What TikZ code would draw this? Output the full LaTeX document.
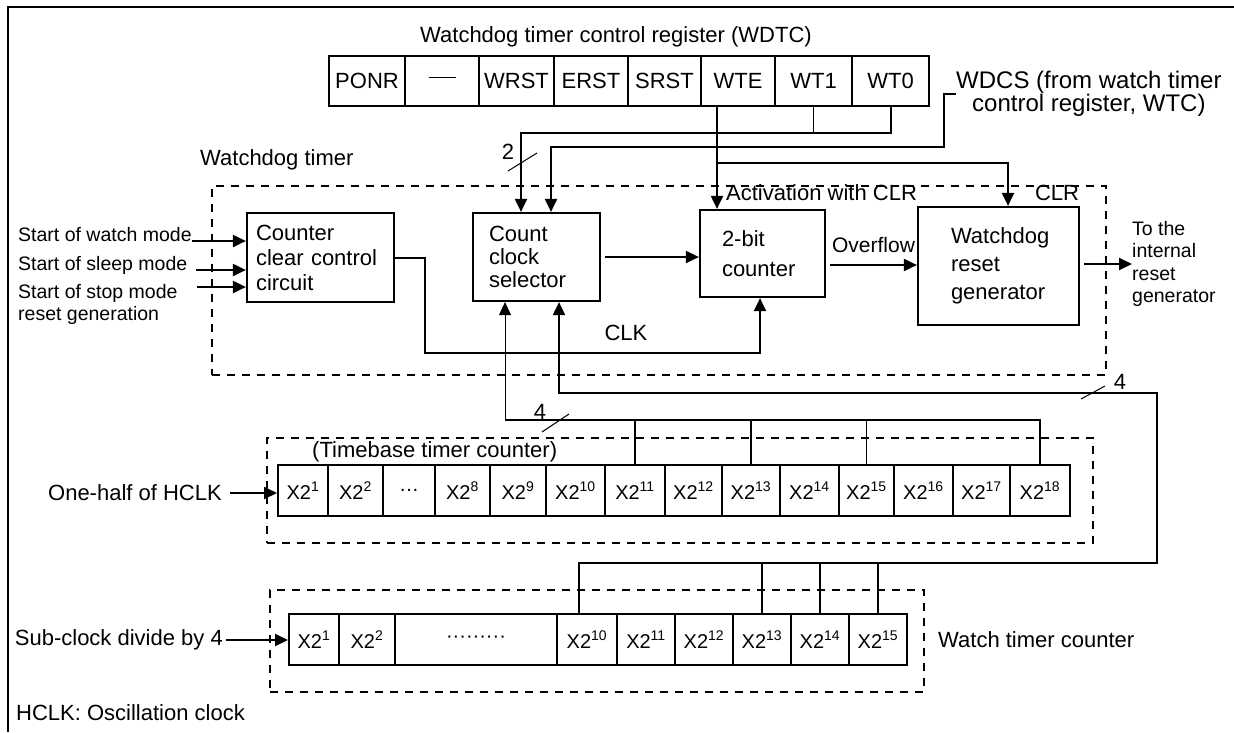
\documentclass[tikz,border=0pt]{standalone}
\usepackage{fontspec}
\setmainfont{Liberation Sans}
\usetikzlibrary{arrows.meta, calc}
\newcommand{\mainsz}{\fontsize{22}{26}\selectfont}
\newcommand{\smallsz}{\fontsize{19.5}{22}\selectfont}
\newcommand{\cellsz}{\fontsize{20}{24}\selectfont}
\newcommand{\xtwo}[1]{X2\textsuperscript{#1}}

\begin{document}
\begin{tikzpicture}[x=1pt, y=-1pt,
    box/.style={draw, line width=2.2pt, inner sep=0pt, align=left},
    regcell/.style={draw, line width=2pt, inner sep=0pt,
                    minimum height=50pt, font=\mainsz},
    cell/.style={draw, line width=2pt, inner sep=0pt,
                 minimum height=51pt, font=\cellsz},
    arr/.style={-{Triangle[length=13pt,width=12pt]}, line width=2pt},
    bus/.style={line width=1.8pt},
    slash/.style={line width=1pt},
    dashbox/.style={draw, line width=2pt, dash pattern=on 8pt off 7pt,
                    inner sep=0pt},
    lbl/.style={font=\mainsz, inner sep=0pt},
    sml/.style={font=\smallsz, inner sep=0pt}
  ]
  \useasboundingbox (0,0) rectangle (1234,732);
  % Frame
  \draw[line width=2.5pt] (1234,7) -- (8,7) -- (8,732);

  % Control register WDTC
  \node[lbl] (regtitle) at (616,37) {Watchdog timer control register (WDTC)};
  \foreach \xa/\xb/\n/\txt in {329/405/ponr/PONR,
      405/479/rsv/{\rule[7pt]{27pt}{1.3pt}}, 479/554/wrst/WRST,
      554/628/erst/ERST, 628/701/srst/SRST, 701/775/wte/WTE,
      775/852/wtone/WT1, 852/929/wtzero/WT0} {
    \node[regcell, minimum width={(\xb-\xa)*1pt}] (\n) at ({(\xa+\xb)/2},81) {\txt};
  }
  \node[lbl, anchor=west, align=center, font=\fontsize{24}{23}\selectfont]
        (wdcs) at (956,94) {WDCS (from watch timer\\control register, WTC)};

  % Watchdog timer block
  \node[dashbox, minimum width=894pt, minimum height=189pt] (wdt) at (659,280.5) {};
  \node[lbl, anchor=west] (wdtlbl) at (200,160) {Watchdog timer};
  \node[box, minimum width=147pt, minimum height=89pt, text width=129pt,
        font=\fontsize{22}{25}\selectfont] (ccc) at (320.5,257.5)
        {Counter\\clear control\\circuit};
  \node[box, minimum width=127pt, minimum height=88pt, text width=95pt,
        font=\fontsize{22}{23}\selectfont] (ccs) at (536.5,257)
        {Count\\clock\\selector};
  \node[box, minimum width=125pt, minimum height=87pt, text width=81pt,
        font=\fontsize{22}{30}\selectfont] (cnt) at (762.5,253.5)
        {2-bit\\counter};
  \node[box, minimum width=161pt, minimum height=118pt, text width=95pt,
        font=\fontsize{22}{28}\selectfont] (wrg) at (998.5,266)
        {Watchdog\\reset\\generator};

  % Inputs of the clear control
  \node[sml, anchor=base west] (swm) at (18,241) {Start of watch mode};
  \node[sml, anchor=base west] (ssm) at (18,270) {Start of sleep mode};
  \node[sml, anchor=west, align=left] (stm) at (18,304)
        {Start of stop mode\\reset generation};
  \coordinate (stmin) at (197,287);
  \draw[arr] (swm.base east) -- (swm.base east -| ccc.west);
  \draw[arr] ($(ssm.base east)+(9,0)$) -- (ssm.base east -| ccc.west);
  \draw[arr] (stmin) -- (stmin -| ccc.west);

  % Output
  \node[sml, anchor=west, align=left, font=\fontsize{19.5}{22.5}\selectfont]
        (torst) at (1132,264) {To the\\internal\\reset\\generator};
  \draw[arr] ($(wrg.east |- torst.west)+(4,0)$) -- (torst.west);

  % Inner connections
  \draw[arr] ($(ccs.east)+(4,0)$) -- (ccs.east -| cnt.west);
  \draw[arr] ($(cnt.east)+(4,11.5)$)
        -- node[lbl, above=11pt, font=\fontsize{21}{24}\selectfont] (ovf) {Overflow}
        ($(cnt.east -| wrg.west)+(0,11.5)$);
  \draw[arr] (ccc.east) -- ++(30,0) -- ++(0,95) -| ($(cnt.south)+(-2.5,0)$);
  \node[lbl] (clk) at (626,333) {CLK};

  % From the register
  \coordinate (wtebit) at ($(wte.south)+(-21,0)$);
  \draw[arr] (wtebit) -- (wtebit |- cnt.north);
  \draw[arr] (wtebit |- 0,163) -| ($(wrg.north)+(9.5,0)$);
  \node[lbl, anchor=west] (act) at (726,193) {Activation with CLR};
  \node[lbl] (clr) at (1057,193) {CLR};
  \draw[bus] (wtone.south) -- (wtone.south |- 0,133);
  \draw[arr] (wtzero.south) -- (wtzero.south |- 0,133)
        -| ($(ccs.north)+(-15.5,0)$);
  \draw[arr] (wdcs.west) -- ++(-12,0) -- ++(0,53) -| ($(ccs.north)+(14.5,0)$);
  \node[lbl] (two) at (508,152) {2};
  \draw[slash] ($(two)+(0,19)$) -- ++(29,-18);

  % Timebase timer counter
  \node[dashbox, minimum width=826pt, minimum height=105pt] (tbbox) at (680,490.5) {};
  \node[lbl, anchor=west] (tbtitle) at (312,452) {(Timebase timer counter)};
  \foreach \xa/\xb/\n/\txt in {278/328/1/\xtwo{1}, 328/383/2/\xtwo{2},
      383/435/dots/{…}, 435/490/8/\xtwo{8}, 490/546/9/\xtwo{9},
      546/605/10/\xtwo{10}, 605/665/11/\xtwo{11}, 665/722/12/\xtwo{12},
      722/780/13/\xtwo{13}, 780/839/14/\xtwo{14}, 839/894/15/\xtwo{15},
      894/953/16/\xtwo{16}, 953/1010/17/\xtwo{17}, 1010/1070/18/\xtwo{18}} {
    \node[cell, minimum width={(\xb-\xa)*1pt}] (tb\n) at ({(\xa+\xb)/2},490.5) {\txt};
  }
  \node[lbl, anchor=east] (half) at (222,493) {One-half of HCLK};
  \draw[arr] ($(half.east)+(8,0)$) -- (half.east -| tb1.west);

  % Watch timer counter
  \node[dashbox, minimum width=654pt, minimum height=102pt] (wtbox) at (597,641) {};
  \foreach \xa/\xb/\n/\txt in {289/339/1/\xtwo{1}, 339/395/2/\xtwo{2},
      395/557/dots/{·········}, 557/617/10/\xtwo{10}, 617/675/11/\xtwo{11},
      675/733/12/\xtwo{12}, 733/791/13/\xtwo{13}, 791/849/14/\xtwo{14},
      849/907/15/\xtwo{15}} {
    \node[cell, minimum width={(\xb-\xa)*1pt}] (wc\n) at ({(\xa+\xb)/2},639.5) {\txt};
  }
  \node[lbl, anchor=west] (wtclbl) at (938,640) {Watch timer counter};
  \node[lbl, anchor=east] (sub) at (223,640) {Sub-clock divide by 4};
  \draw[arr] ($(sub.east)+(3,0)$) -- (sub.east -| wc1.west);
  \node[lbl, anchor=west] (hclk) at (16,713) {HCLK: Oscillation clock};

  % Clock taps into the selector
  \coordinate (ccsinA) at ($(ccs.south)+(-31.5,0)$);
  \coordinate (ccsinB) at ($(ccs.south)+(22.5,0)$);
  \draw[bus] (tb18.north) |- (ccsinA |- 0,420);
  \foreach \n in {11,13,15} {
    \draw[bus] (tb\n.north) -- (tb\n.north |- 0,420);
  }
  \draw[arr, line width=1pt] (ccsinA |- 0,420) -- (ccsinA);
  \node[lbl] (fourA) at (540,412) {4};
  \draw[slash] ($(fourA)+(2,20)$) -- ++(27,-18);

  \coordinate (wtturn) at (1157,563);
  \draw[arr] ($(wc10.north)+(-8,0)$) |- (wtturn) |- (ccsinB |- 0,393) -- (ccsinB);
  \foreach \n in {13,14,15} {
    \draw[bus] (wc\n.north) -- (wc\n.north |- wtturn);
  }
  \node[lbl] (fourB) at (1120,382) {4};
  \draw[slash] ($(fourB)+(-39,17)$) -- ++(24,-13);
\end{tikzpicture}
\end{document}
